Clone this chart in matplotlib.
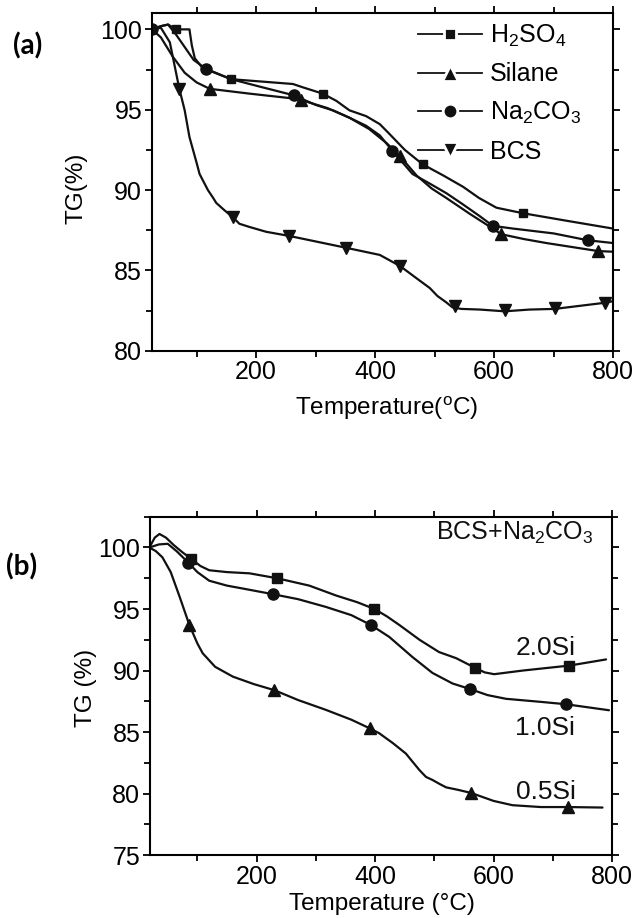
import matplotlib
matplotlib.use("Agg")
import matplotlib.pyplot as plt
from matplotlib.lines import Line2D

plt.rcParams['font.family'] = ['Liberation Sans', 'DejaVu Sans']
plt.rcParams['mathtext.fontset'] = 'custom'
plt.rcParams['mathtext.rm'] = 'Liberation Sans'
plt.rcParams['mathtext.it'] = 'Liberation Sans:italic'
plt.rcParams['mathtext.bf'] = 'Liberation Sans:bold'

# ---------------- Panel (a) data ----------------
h2so4_x = [25, 40, 52, 66, 88, 92, 97, 110, 158, 210, 262, 278, 312, 335, 357, 385, 408, 424, 450, 480, 515, 548, 575, 604, 648, 720, 800]
h2so4_y = [100, 100.2, 100.3, 100.0, 100.0, 99.0, 98.2, 97.6, 96.9, 96.75, 96.6, 96.4, 96.0, 95.55, 94.96, 94.6, 94.1, 93.5, 92.5, 91.6, 90.9, 90.2, 89.5, 88.9, 88.56, 88.1, 87.6]
h2so4_mx = [66, 158, 312, 480, 648]
h2so4_my = [100.0, 96.9, 96.0, 91.6, 88.56]

silane_x = [25, 40, 60, 80, 100, 122, 189, 262, 276, 320, 357, 390, 420, 442, 470, 495, 520, 560, 598, 612, 650, 688, 775, 800]
silane_y = [100, 99.5, 98.3, 97.3, 96.7, 96.3, 96.0, 95.7, 95.6, 95.1, 94.5, 93.8, 92.9, 92.1, 90.9, 90.1, 89.5, 88.5, 87.6, 87.25, 86.95, 86.7, 86.2, 86.16]
silane_mx = [122, 276, 442, 612, 775]
silane_my = [96.3, 95.6, 92.1, 87.25, 86.2]

na2co3_x = [25, 40, 52, 65, 80, 95, 115, 158, 210, 263, 300, 330, 357, 385, 408, 429, 463, 492, 520, 548, 575, 598, 632, 700, 758, 800]
na2co3_y = [100, 100.2, 100.3, 99.7, 98.9, 98.1, 97.56, 96.9, 96.4, 95.9, 95.3, 94.95, 94.5, 94.0, 93.4, 92.45, 91.0, 90.4, 89.8, 89.1, 88.4, 87.77, 87.6, 87.3, 86.87, 86.7]
na2co3_mx = [25, 115, 263, 429, 598, 758]
na2co3_my = [100, 97.56, 95.9, 92.45, 87.77, 86.87]

bcs_x = [25, 40, 55, 71, 80, 88, 94, 100, 105, 112, 119, 128, 133, 145, 161, 172, 189, 217, 256, 352, 408, 442, 470, 492, 505, 520, 530, 545, 576, 618, 660, 702, 786, 800]
bcs_y = [100, 100.1, 99.2, 96.3, 94.96, 93.3, 92.5, 91.7, 91.0, 90.5, 90.0, 89.5, 89.2, 88.8, 88.3, 87.9, 87.7, 87.4, 87.14, 86.4, 85.96, 85.27, 84.5, 83.9, 83.4, 83.0, 82.7, 82.6, 82.56, 82.45, 82.56, 82.6, 82.98, 83.08]
bcs_mx = [71, 161, 256, 352, 442, 534, 618, 702, 786]
bcs_my = [96.3, 88.3, 87.14, 86.4, 85.27, 82.75, 82.55, 82.65, 82.98]

labels_a = [r'H$_\mathregular{2}$SO$_\mathregular{4}$', 'Silane', r'Na$_\mathregular{2}$CO$_\mathregular{3}$', 'BCS']

# ---------------- Panel (b) data ----------------
s20_x = [19, 28, 36, 47, 60, 75, 89, 105, 120, 150, 188, 234.5, 289, 334, 370, 399, 420, 441, 475, 508, 537, 568, 585, 601, 650, 728, 790]
s20_y = [100, 100.8, 101.1, 100.8, 100.2, 99.6, 99.1, 98.5, 98.15, 98.0, 97.9, 97.5, 96.9, 96.1, 95.55, 95.0, 94.4, 93.7, 92.5, 91.5, 91.0, 90.24, 89.85, 89.7, 90.0, 90.4, 90.9]
s20_mx = [89, 234.5, 399, 568, 728]
s20_my = [99.1, 97.5, 95.0, 90.24, 90.4]

s10_x = [19, 35, 50, 65, 85, 100, 120, 150, 176, 228, 270, 317, 360, 393, 424, 463, 497, 531, 560, 590, 621, 680, 722, 795]
s10_y = [100, 100.25, 100.3, 99.7, 98.75, 98.0, 97.3, 96.9, 96.67, 96.2, 95.8, 95.17, 94.5, 93.7, 92.73, 91.1, 89.8, 88.94, 88.5, 88.0, 87.7, 87.45, 87.26, 86.77]
s10_mx = [85, 228, 393, 560, 722]
s10_my = [98.75, 96.2, 93.7, 88.5, 87.26]

s05_x = [19, 30, 41, 55, 70, 86.5, 100, 109, 130, 160, 195, 230, 270, 317, 360, 391, 407, 430, 452, 475, 486, 497, 510, 520, 540, 562, 600, 632, 680, 725, 784]
s05_y = [100, 99.7, 99.2, 98.0, 96.0, 93.7, 92.2, 91.4, 90.3, 89.5, 88.9, 88.4, 87.6, 86.8, 86.0, 85.3, 84.9, 84.1, 83.25, 81.9, 81.35, 81.1, 80.75, 80.5, 80.3, 80.05, 79.4, 79.05, 78.9, 78.9, 78.86]
s05_mx = [86.5, 230, 391, 562, 725]
s05_my = [93.7, 88.4, 85.3, 80.05, 78.9]

labels_b = ['2.0Si', '1.0Si', '0.5Si']
label_b_x = [688, 686, 688]
label_b_y = [91.8, 85.3, 80.13]

fig = plt.figure(figsize=(6.38, 9.18), dpi=100)

LW = 1.6
TICK_FS = 18
INK = '#111111'


def style_axes(ax, ylim, yticks, xlim):
    ax.set_xlim(*xlim)
    ax.set_ylim(*ylim)
    ax.set_xticks([200, 400, 600, 800])
    ax.set_xticks([100, 300, 500, 700], minor=True)
    ax.set_yticks(yticks)
    minors = [v + 2.5 for v in yticks if v + 2.5 <= ylim[1]]
    ax.set_yticks(minors, minor=True)
    for s in ax.spines.values():
        s.set_linewidth(1.5)
    ax.tick_params(which='both', direction='out', width=1.3, top=True, right=True,
                   labeltop=False, labelright=False, labelsize=TICK_FS, pad=2)
    ax.tick_params(which='major', length=5)
    ax.tick_params(which='minor', length=4)


def smooth_line(ax, xs, ys):
    ax.plot(xs, ys, color=INK, lw=LW, solid_joinstyle='round', solid_capstyle='round')


# ---------------- Panel (a) ----------------
axa = fig.add_axes([0.2382, 0.618, 0.7226, 0.3675])
smooth_line(axa, h2so4_x, h2so4_y)
axa.plot(h2so4_mx, h2so4_my, ls='none', marker='s', ms=5.5, color=INK)
smooth_line(axa, silane_x, silane_y)
axa.plot(silane_mx, silane_my, ls='none', marker='^', ms=9, color=INK)
smooth_line(axa, na2co3_x, na2co3_y)
axa.plot(na2co3_mx, na2co3_my, ls='none', marker='o', ms=8, color=INK)
smooth_line(axa, bcs_x, bcs_y)
axa.plot(bcs_mx, bcs_my, ls='none', marker='v', ms=9, color=INK)
style_axes(axa, (80, 101), [80, 85, 90, 95, 100], (25, 800))
axa.set_xlabel(r'Temperature($\mathregular{^o}$C)', fontsize=17.5)
axa.set_ylabel('TG(%)', fontsize=17.5)
axa.xaxis.set_label_coords(0.508, -0.131)
axa.yaxis.set_label_coords(-0.139, 0.482)

handles = [
    Line2D([], [], color=INK, lw=1.3, marker='s', ms=8, mec='white', mew=2),
    Line2D([], [], color=INK, lw=1.3, marker='^', ms=11.5, mec='white', mew=2),
    Line2D([], [], color=INK, lw=1.3, marker='o', ms=10.5, mec='white', mew=2),
    Line2D([], [], color=INK, lw=1.3, marker='v', ms=11.5, mec='white', mew=2),
]
axa.legend(handles, labels_a, loc='upper left', bbox_to_anchor=(0.578, 0.972),
           frameon=False, fontsize=18, handlelength=2.55, handletextpad=0.3,
           labelspacing=0.54, borderpad=0, borderaxespad=0)

fig.text(0.044, 0.95, '(a)', fontsize=20, fontweight='bold', family='Lato',
         ha='center', va='center')

# ---------------- Panel (b) ----------------
axb = fig.add_axes([0.2351, 0.0686, 0.7241, 0.3685])
smooth_line(axb, s20_x, s20_y)
axb.plot(s20_mx, s20_my, ls='none', marker='s', ms=7.5, color=INK)
smooth_line(axb, s10_x, s10_y)
axb.plot(s10_mx, s10_my, ls='none', marker='o', ms=8, color=INK)
smooth_line(axb, s05_x, s05_y)
axb.plot(s05_mx, s05_my, ls='none', marker='^', ms=9, color=INK)
style_axes(axb, (75, 102.5), [75, 80, 85, 90, 95, 100], (20, 800))
axb.set_xlabel('Temperature (\u00b0C)', fontsize=17.5)
axb.set_ylabel('TG (%)', fontsize=17.5)
axb.xaxis.set_label_coords(0.502, -0.112)
axb.yaxis.set_label_coords(-0.115, 0.494)
for t, x, y in zip(labels_b, label_b_x, label_b_y):
    axb.text(x, y, t, fontsize=19, ha='center', va='center', color=INK)
axb.text(0.959, 0.952, r'BCS+Na$_\mathregular{2}$CO$_\mathregular{3}$', transform=axb.transAxes,
         fontsize=18, ha='right', va='center', color=INK)

fig.text(0.0345, 0.382, '(b)', fontsize=20, fontweight='bold', family='Lato',
         ha='center', va='center')

fig.savefig('out.png', dpi=100)
